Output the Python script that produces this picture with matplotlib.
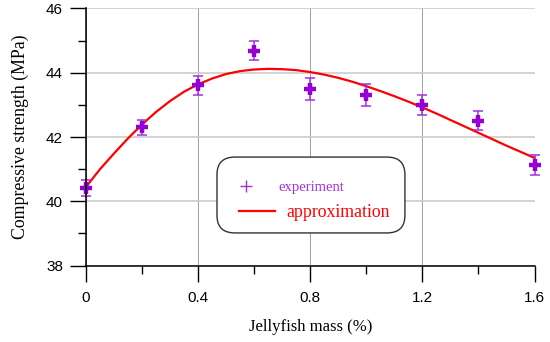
import matplotlib.pyplot as plt
from matplotlib.patches import FancyBboxPatch
from matplotlib.lines import Line2D
from matplotlib.ticker import MultipleLocator

# experimental points (jellyfish mass %, compressive strength MPa)
mass = [0.0, 0.2, 0.4, 0.6, 0.8, 1.0, 1.2, 1.4, 1.6]
strength = [40.42, 42.30, 43.61, 44.68, 43.49, 43.30, 43.01, 42.51, 41.13]
strength_err = [0.24, 0.24, 0.30, 0.30, 0.35, 0.34, 0.31, 0.30, 0.30]

# approximation curve
curve_mass = [0.0, 0.05, 0.1, 0.15, 0.2, 0.25, 0.3, 0.35, 0.4, 0.45, 0.5, 0.55,
              0.6, 0.65, 0.7, 0.75, 0.8, 0.85, 0.9, 0.95, 1.0, 1.05, 1.1, 1.15,
              1.2, 1.25, 1.3, 1.35, 1.4, 1.45, 1.5, 1.55, 1.6]
curve_strength = [40.45, 41.00, 41.49, 41.96, 42.39, 42.78, 43.12, 43.41, 43.64,
                  43.82, 43.96, 44.05, 44.10, 44.12, 44.11, 44.08, 44.02, 43.94,
                  43.84, 43.72, 43.58, 43.43, 43.27, 43.10, 42.92, 42.73, 42.53,
                  42.33, 42.13, 41.93, 41.73, 41.54, 41.35]

serif = 'Liberation Serif'
sans = 'Liberation Sans'
purple = '#9400D3'
light_purple = '#A030E0'

fig = plt.figure(figsize=(5.5, 3.42), dpi=100)
ax = fig.add_axes([0.1564, 0.2234, 0.8155, 0.752])

ax.set_xlim(0, 1.6)
ax.set_ylim(38, 46)

# grid
ax.xaxis.set_major_locator(MultipleLocator(0.4))
ax.xaxis.set_minor_locator(MultipleLocator(0.2))
ax.yaxis.set_major_locator(MultipleLocator(2))
ax.yaxis.set_minor_locator(MultipleLocator(1))
ax.grid(axis='y', which='major', color='#cccccc', linewidth=1.2)
ax.grid(axis='x', which='major', color='#a0a0a0', linewidth=0.7)
ax.set_axisbelow(True)

ax.spines['top'].set_visible(False)
ax.spines['right'].set_visible(False)
ax.spines['left'].set_linewidth(1.1)
ax.spines['bottom'].set_linewidth(1.1)
ax.spines['left'].set_zorder(5)
ax.spines['bottom'].set_zorder(5)

ax.tick_params(which='major', direction='out', length=11.5, width=1.0, color='black',
               labelsize=11, labelfontfamily=sans)
ax.tick_params(which='minor', direction='out', length=6, width=1.0, color='black')
ax.tick_params(axis='x', which='major', pad=7)
ax.tick_params(axis='y', which='major', pad=5)
ax.set_xticks([0, 0.4, 0.8, 1.2, 1.6])
ax.set_xticklabels(['0', '0.4', '0.8', '1.2', '1.6'])

ax.plot(curve_mass, curve_strength, color='red', linewidth=1.6, zorder=3, clip_on=False)
ax.errorbar(mass, strength, yerr=strength_err, fmt='none', ecolor=light_purple,
            elinewidth=1.1, capsize=3.6, capthick=1.1, zorder=4, clip_on=False)
ax.plot(mass, strength, linestyle='none', marker='+', markersize=8, markeredgewidth=3.2,
        color=purple, zorder=4, clip_on=False)

ax.set_xlabel('Jellyfish mass (%)', fontfamily=serif, fontsize=12, labelpad=10)
ax.set_ylabel('Compressive strength (MPa)', fontfamily=serif, fontsize=12.8, labelpad=12)

# legend box
box = FancyBboxPatch((0.292, 0.127), 0.419, 0.295, transform=ax.transAxes,
                     boxstyle='round,pad=0,rounding_size=0.04', facecolor='white',
                     edgecolor='#333333', linewidth=1.0, zorder=6, mutation_aspect=1.7)
ax.add_patch(box)

h1 = Line2D([], [], linestyle='none', marker='+', markersize=8, markeredgewidth=1.0, color=light_purple)
leg1 = ax.legend([h1], ['experiment'], loc='center left', bbox_to_anchor=(0.341, 0.304),
                 frameon=False, numpoints=1, handlelength=1.01, handletextpad=1.66,
                 borderpad=0, borderaxespad=0, prop={'family': serif, 'size': 10.5})
leg1.get_texts()[0].set_color(light_purple)
leg1.set_zorder(7)
ax.add_artist(leg1)

h2 = Line2D([], [], color='red', linewidth=1.6)
leg2 = ax.legend([h2], ['approximation'], loc='center left', bbox_to_anchor=(0.341, 0.207),
                 frameon=False, handlelength=2.0, handletextpad=0.69,
                 borderpad=0, borderaxespad=0, prop={'family': serif, 'size': 12.8})
leg2.get_texts()[0].set_color('red')
leg2.set_zorder(7)

plt.savefig('out.png', dpi=100)
